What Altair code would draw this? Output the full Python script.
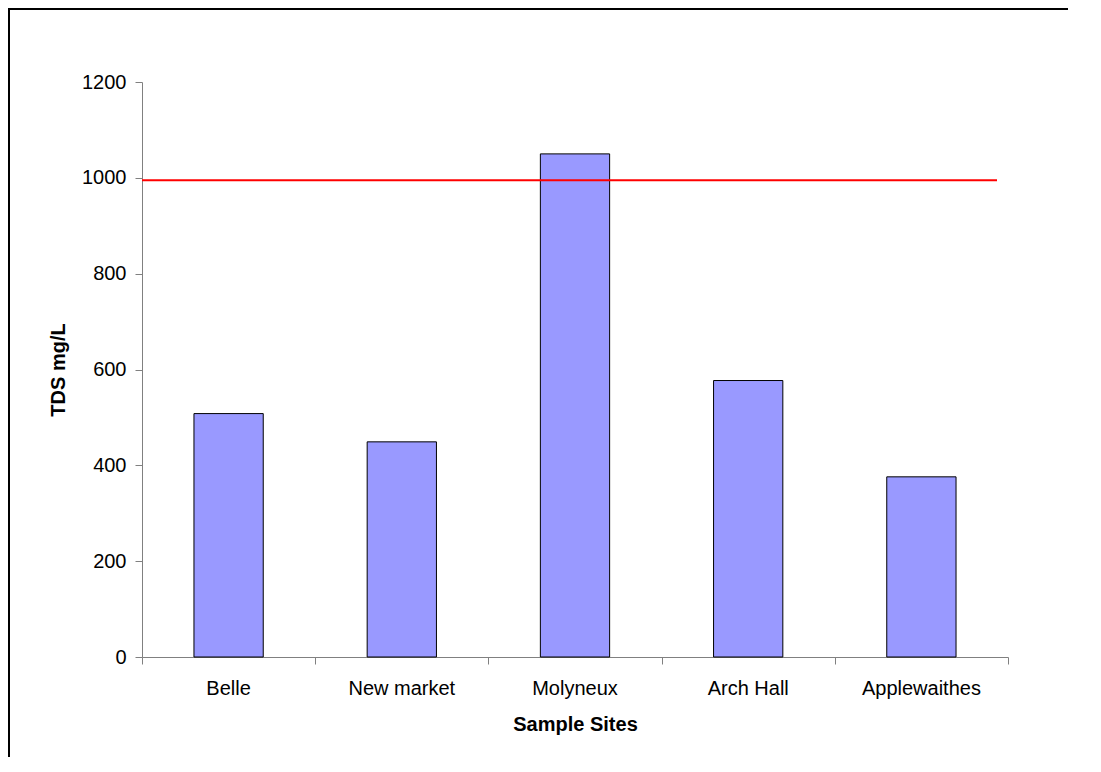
import altair as alt
import pandas as pd

sites = ["Belle", "New market", "Molyneux", "Arch Hall", "Applewaithes"]
tds = [508, 449, 1050, 577, 376]
y_ticks = [0, 200, 400, 600, 800, 1000, 1200]
threshold = [995]
boundaries = [0, 1, 2, 3, 4, 5]

FONT = "Liberation Sans"
W, H = 866, 575
GRAY = "#808080"

df = pd.DataFrame({"site": sites, "tds": tds})

bars = alt.Chart(df).mark_bar(color="#9999FF", stroke="black", strokeWidth=1).encode(
    x=alt.X(
        "site:N", sort=sites,
        scale=alt.Scale(paddingInner=0.6, paddingOuter=0.3),
        axis=alt.Axis(
            title="Sample Sites", labelAngle=0, ticks=True, tickOpacity=0, tickSize=7,
            labelPadding=14, domainColor=GRAY, labelFontSize=20, titleFontSize=20,
            titleFontWeight="bold", titlePadding=16, labelColor="black", titleColor="black",
            labelFont=FONT, titleFont=FONT, grid=False,
        ),
    ),
    y=alt.Y(
        "tds:Q", scale=alt.Scale(domain=[0, 1200], nice=False),
        axis=alt.Axis(
            values=y_ticks, format="d", title="TDS mg/L", grid=False, tickSize=7, tickColor=GRAY,
            domainColor=GRAY, labelPadding=9, labelFontSize=20, titleFontSize=20,
            titleFontWeight="bold", titlePadding=13, labelColor="black", titleColor="black",
            labelFont=FONT, titleFont=FONT,
        ),
    ),
)

red = alt.Chart(pd.DataFrame({"v": threshold})).mark_rule(color="#FF0000", strokeWidth=2).encode(
    y=alt.Y("v:Q"), x=alt.value(0), x2=alt.value(855)
)

tick_df = pd.DataFrame({"b": boundaries})
ticks = alt.Chart(tick_df).mark_point(opacity=0).encode(
    x=alt.X(
        "b:Q", scale=alt.Scale(domain=[0, 5], nice=False, zero=False),
        axis=alt.Axis(orient="bottom", values=boundaries, labels=False, domain=False,
                      ticks=True, tickSize=7, tickColor=GRAY, title=None, grid=False),
    )
)

one = pd.DataFrame({"a": [0]})
border_top = alt.Chart(one).mark_rule(color="black", strokeWidth=2).encode(
    x=alt.value(-134), x2=alt.value(W + 60), y=alt.value(-73)
)
border_left = alt.Chart(one).mark_rule(color="black", strokeWidth=2).encode(
    x=alt.value(-133), y=alt.value(-74), y2=alt.value(H + 100)
)

chart = alt.layer(bars, red, ticks, border_top, border_left).resolve_scale(
    x="independent"
).properties(
    width=W, height=H,
    padding={"left": 134, "top": 74, "right": 70, "bottom": 100},
    autosize=alt.AutoSizeParams(type="none"),
    background="white",
).configure_view(strokeWidth=0)

chart.save("out.html", embed_options={"renderer": "svg", "actions": False})
